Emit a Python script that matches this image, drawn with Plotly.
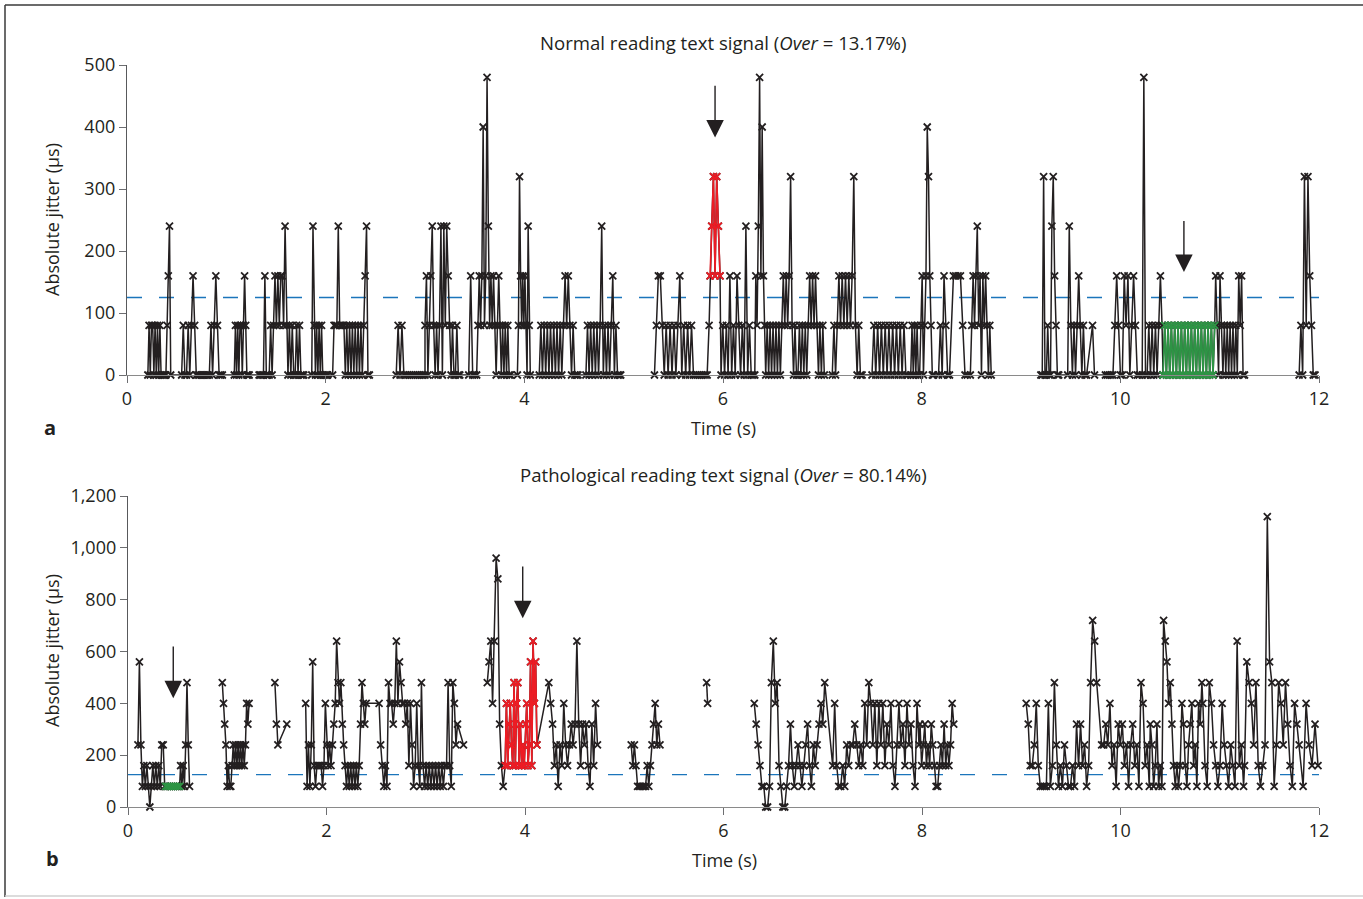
import plotly.graph_objects as go

W, H = 1363, 899

# ---------------- data ----------------
# Each segment: (t_start [s], t_end [s], jitter values [µs], colour tag)
SEG_NORMAL = [
    (0.21, 0.44, [0, 80, 0, 80, 80, 0, 80, 0, 80, 0, 80, 0, 0, 0, 0, 0, 80, 160, 240, 0], "k"),
    (0.55, 0.96, [0, 80, 0, 0, 80, 0, 80, 160, 80, 0, 0, 0, 0, 0, 0, 0, 0, 0, 80, 0, 80, 160, 80, 0, 0, 0], "k"),
    (1.08, 1.23, [0, 80, 0, 80, 0, 80, 80, 0, 80, 160, 80, 0, 0, 0], "k"),
    (1.33, 1.78, [0, 0, 0, 0, 160, 0, 0, 0, 80, 0, 80, 160, 80, 160, 80, 160, 160, 80, 240, 80, 0, 80, 0, 80, 0, 0, 80, 0, 80, 0, 0, 0], "k"),
    (1.86, 2.02, [0, 240, 80, 0, 80, 0, 80, 0, 80, 0, 0, 0, 0, 0], "k"),
    (2.07, 2.44, [0, 80, 80, 80, 240, 80, 80, 80, 80, 0, 80, 0, 80, 0, 80, 0, 80, 0, 80, 0, 80, 0, 80, 160, 240, 0, 0], "k"),
    (2.71, 3.00, [0, 80, 0, 80, 0, 0, 0, 0, 0, 0, 0, 0, 0, 0, 0, 0], "k"),
    (3.00, 3.35, [80, 160, 0, 80, 160, 240, 80, 0, 80, 0, 80, 240, 0, 240, 80, 240, 160, 80, 0, 80, 0, 0, 80, 0, 0], "k"),
    (3.44, 3.50, [0, 160, 0, 0], "k"),
    (3.52, 3.86, [0, 80, 160, 80, 160, 400, 80, 160, 480, 240, 80, 160, 80, 160, 80, 0, 80, 160, 80, 0, 80, 0, 80, 0, 80, 0, 0], "k"),
    (3.93, 4.06, [0, 80, 320, 160, 80, 160, 80, 160, 80, 0, 240, 80, 0], "k"),
    (4.15, 4.54, [0, 80, 0, 80, 0, 80, 0, 80, 0, 80, 0, 80, 0, 80, 0, 80, 160, 80, 160, 80, 0, 80, 0, 0, 0], "k"),
    (4.62, 4.97, [0, 80, 0, 80, 0, 80, 0, 80, 0, 80, 240, 0, 80, 0, 80, 0, 80, 160, 0, 80, 0, 0, 0], "k"),
    (5.31, 5.86, [0, 80, 160, 160, 80, 0, 80, 0, 80, 0, 80, 0, 80, 160, 0, 80, 0, 80, 0, 80, 0, 0, 0, 0, 0, 0, 0, 0, 80], "k"),
    (5.87, 5.97, [160, 240, 320, 160, 320, 240, 160], "r"),
    (5.98, 6.32, [0, 80, 0, 80, 0, 160, 0, 80, 0, 160, 80, 0, 80, 0, 240, 0, 80, 0, 0, 0], "k"),
    (6.33, 6.42, [160, 80, 240, 480, 160, 400, 160, 80], "k"),
    (6.43, 7.02, [0, 80, 0, 80, 0, 80, 0, 80, 0, 80, 0, 80, 160, 80, 160, 80, 160, 320, 80, 0, 80, 0, 0, 80, 0, 80, 0, 80, 0, 80, 160, 80, 160, 80, 160, 80, 0, 80, 0, 80, 0], "k"),
    (7.10, 7.40, [0, 80, 0, 80, 160, 80, 160, 80, 160, 80, 160, 80, 160, 320, 80, 0, 80, 0, 0], "k"),
    (7.50, 7.86, [0, 80, 0, 80, 0, 80, 0, 80, 0, 80, 0, 80, 0, 80, 0, 80, 0, 80, 0, 0], "k"),
    (7.89, 8.12, [0, 80, 0, 80, 0, 80, 0, 0, 80, 160, 0, 80, 160, 400, 320, 160, 80, 0, 0], "k"),
    (8.17, 8.28, [0, 80, 0, 160, 80, 0, 0], "k"),
    (8.32, 8.46, [160, 160, 160, 160, 80, 0, 0], "k"),
    (8.49, 8.70, [0, 80, 160, 80, 160, 240, 80, 160, 0, 160, 80, 160, 80, 0, 80, 0], "k"),
    (9.20, 9.38, [0, 0, 320, 0, 0, 80, 0, 0, 240, 320, 160, 80, 0, 0], "k"),
    (9.47, 9.66, [0, 240, 80, 0, 80, 0, 80, 160, 80, 0, 80, 0, 0], "k"),
    (9.72, 9.74, [80, 0], "k"),
    (9.85, 10.19, [0, 0, 0, 0, 0, 80, 160, 80, 0, 0, 160, 80, 160, 0, 80, 160, 80, 0, 0], "k"),
    (10.22, 10.42, [0, 480, 0, 0, 80, 0, 80, 0, 80, 0, 80, 160, 80], "k"),
    (10.43, 10.95, [0, 80, 0, 80, 0, 80, 0, 80, 0, 80, 0, 80, 0, 80, 0, 80, 0, 80, 0, 80, 0, 80, 0, 80, 0, 80, 0, 80, 0, 80, 0, 80], "g"),
    (10.96, 11.25, [160, 80, 0, 160, 80, 0, 80, 0, 80, 0, 80, 0, 80, 0, 80, 0, 160, 80, 160, 0, 0], "k"),
    (11.80, 11.96, [0, 80, 0, 320, 80, 320, 160, 80, 0, 0], "k"),
]

SEG_PATHO = [
    (0.10, 0.37, [240, 560, 240, 80, 160, 80, 160, 80, 0, 80, 160, 80, 160, 80, 160, 80, 240, 240, 80], "k"),
    (0.38, 0.52, [80, 80, 80, 80, 80, 80, 80, 80], "g"),
    (0.53, 0.62, [160, 80, 160, 80, 240, 480, 240, 80], "k"),
    (0.95, 1.22, [480, 400, 320, 240, 80, 160, 80, 80, 160, 240, 160, 240, 160, 240, 160, 240, 160, 240, 160, 240, 400, 320, 400], "k"),
    (1.48, 1.51, [480, 320, 240], "k"),
    (1.60, 1.60, [320], "k"),
    (1.79, 2.40, [400, 80, 240, 80, 240, 560, 160, 80, 160, 160, 160, 160, 80, 160, 400, 240, 160, 240, 160, 240, 320, 400, 640, 480,
                  400, 480, 320, 240, 160, 80, 160, 80, 160, 80, 160, 80, 160, 80, 160, 320, 480, 400, 320, 400], "k"),
    (2.53, 3.32, [400, 240, 160, 80, 160, 80, 480, 400, 400, 320, 400, 640, 400, 560, 480, 400, 400, 320, 400, 160, 400, 240, 80, 160,
                  400, 160, 80, 480, 160, 80, 160, 80, 160, 80, 160, 80, 160, 80, 160, 80, 160, 80, 160, 160, 480, 160, 80, 480, 400, 240, 320], "k"),
    (3.38, 3.38, [240], "k"),
    (3.62, 3.78, [480, 560, 640, 400, 640, 960, 880, 320, 160, 80], "k"),
    (3.80, 4.12, [160, 400, 160, 320, 400, 240, 160, 480, 160, 400, 480, 160, 320, 160, 240, 160, 320, 400, 160, 240, 560, 160, 640, 400, 560, 240], "r"),
    (4.24, 4.73, [480, 400, 320, 160, 240, 80, 240, 160, 400, 240, 160, 240, 320, 240, 320, 640, 320, 160, 320, 240, 320, 160, 80, 320, 160, 400, 240], "k"),
    (5.07, 5.36, [240, 160, 240, 160, 80, 80, 80, 80, 80, 80, 160, 80, 160, 240, 320, 400, 240, 320, 240], "k"),
    (5.83, 5.84, [480, 400], "k"),
    (6.31, 7.02, [400, 320, 240, 160, 80, 80, 0, 0, 80, 480, 640, 400, 480, 160, 80, 0, 0, 80, 160, 320, 160, 80, 160, 240, 160, 80, 160,
                  240, 320, 160, 80, 240, 160, 240, 320, 400, 320, 480], "k"),
    (7.10, 7.97, [160, 400, 160, 80, 80, 160, 80, 240, 160, 240, 240, 320, 240, 160, 240, 160, 400, 240, 480, 400, 240, 400, 160, 400, 240,
                  400, 160, 320, 240, 400, 160, 80, 240, 400, 240, 320, 160, 400, 240, 320, 160, 80, 400, 240], "k"),
    (7.98, 8.32, [320, 160, 240, 320, 160, 240, 160, 320, 240, 160, 80, 80, 160, 240, 160, 320, 160, 240, 160, 240, 400, 320], "k"),
    (9.05, 9.76, [400, 320, 160, 160, 240, 400, 160, 80, 80, 80, 80, 400, 80, 160, 480, 240, 80, 160, 80, 240, 160, 80, 80, 160, 80, 320,
                  160, 320, 160, 240, 80, 160, 480, 720, 640, 480], "k"),
    (9.81, 10.29, [240, 240, 320, 240, 400, 160, 240, 80, 320, 240, 320, 160, 240, 80, 240, 320, 160, 240, 80, 480, 400, 160, 240, 80], "k"),
    (10.30, 10.82, [320, 240, 80, 160, 320, 80, 160, 80, 720, 640, 560, 400, 480, 320, 160, 80, 160, 80, 160, 400, 320, 160, 80, 240, 320,
                    400, 160, 240, 80, 400, 320, 480], "k"),
    (10.83, 11.24, [400, 160, 80, 480, 400, 240, 160, 80, 160, 400, 240, 160, 80, 240, 160, 80, 640, 160, 240, 80], "k"),
    (11.25, 11.80, [160, 560, 480, 400, 240, 480, 160, 80, 160, 240, 1120, 560, 480, 80, 240, 480, 400, 240, 480, 320, 160, 80, 400, 320, 240], "k"),
    (11.84, 11.99, [80, 400, 240, 160, 320, 160], "k"),
]

THRESHOLD = 125  # µs

X_TICKS = [0, 2, 4, 6, 8, 10, 12]
YA_TICKS = [0, 100, 200, 300, 400, 500]
YB_TICKS = [0, 200, 400, 600, 800, 1000, 1200]
YB_TICKTEXT = ["0", "200", "400", "600", "800", "1,000", "1,200"]

TITLE_A = "Normal reading text signal (<i>Over</i> = 13.17%)"
TITLE_B = "Pathological reading text signal (<i>Over</i> = 80.14%)"
Y_TITLE = "Absolute jitter (µs)"
X_TITLE = "Time (s)"

# arrows: (time, tail value, tip value)
ARROWS_A = [(5.92, 469, 383), (10.64, 251, 166)]
ARROWS_B = [(0.456, 625, 420), (3.977, 934, 728)]

# ---------------- styling ----------------
INK = "#231f20"
RED = "#ed1c24"
GREEN = "#2e9445"
BLUE = "#1b75bb"
FONT = "Open Sans"


def build(segs, gap=0.15):
    xs, ys = [], []
    col = {"r": ([], []), "g": ([], [])}
    prev = None
    for t0, t1, vals, c in segs:
        n = len(vals)
        ts = [t0 + (t1 - t0) * i / (n - 1) for i in range(n)] if n > 1 else [t0]
        if prev is not None and t0 - prev > gap:
            xs.append(None)
            ys.append(None)
        xs += ts
        ys += vals
        if c in col:
            col[c][0].extend(ts)
            col[c][1].extend(vals)
        prev = t1
    return xs, ys, col


def px(x):
    return x / W


def py(y):
    return 1 - y / H


fig = go.Figure()

panels = [
    (SEG_NORMAL, "x", "y"),
    (SEG_PATHO, "x2", "y2"),
]
colmap = {"r": RED, "g": GREEN}
for segs, xa, ya in panels:
    xs, ys, col = build(segs)
    fig.add_trace(go.Scatter(
        x=[0, 12], y=[THRESHOLD, THRESHOLD], mode="lines", xaxis=xa, yaxis=ya,
        line=dict(color=BLUE, width=1.4, dash="15px,17px"), hoverinfo="skip", showlegend=False))
    fig.add_trace(go.Scatter(
        x=xs, y=ys, mode="lines+markers", xaxis=xa, yaxis=ya, connectgaps=False, cliponaxis=False,
        line=dict(color=INK, width=1.5),
        marker=dict(symbol="x-thin", size=7, line=dict(color=INK, width=1.8)),
        showlegend=False))
    for c, (cx, cy) in col.items():
        if cx:
            fig.add_trace(go.Scatter(
                x=cx, y=cy, mode="lines+markers", xaxis=xa, yaxis=ya, cliponaxis=False,
                line=dict(color=colmap[c], width=1.6),
                marker=dict(symbol="x-thin", size=7, line=dict(color=colmap[c], width=1.8)),
                showlegend=False))

tickfont = dict(family=FONT, size=18, color=INK)
xcommon = dict(range=[0, 12], tickvals=X_TICKS, ticks="outside", ticklen=7, tickwidth=1.2,
               tickcolor="#6d6e71", showline=True, linecolor="#8a8a8a", linewidth=1.3,
               showgrid=False, zeroline=False, tickfont=tickfont, fixedrange=True, automargin=False)
ycommon = dict(ticks="outside", ticklen=7, tickwidth=1.2, tickcolor="#6d6e71", showline=True,
               linecolor="#58595b", linewidth=1.3, showgrid=False, zeroline=False,
               tickfont=tickfont, fixedrange=True, automargin=False)

fig.update_layout(
    template="none",
    width=W, height=H,
    margin=dict(l=0, r=0, t=0, b=0, pad=0, autoexpand=False),
    paper_bgcolor="white", plot_bgcolor="rgba(0,0,0,0)",
    font=dict(family=FONT, color=INK),
    xaxis=dict(domain=[px(127), px(1319)], anchor="y", **xcommon),
    yaxis=dict(domain=[py(375), py(65)], anchor="x", range=[0, 500], tickvals=YA_TICKS, **ycommon),
    xaxis2=dict(domain=[px(128), px(1319)], anchor="y2", **xcommon),
    yaxis2=dict(domain=[py(807), py(496)], anchor="x2", range=[0, 1200], tickvals=YB_TICKS,
                ticktext=YB_TICKTEXT, **ycommon),
)

ann = []
def text(t, x, y, size=18, angle=0, bold=False):
    ann.append(dict(text=f"<b>{t}</b>" if bold else t, x=px(x), y=py(y), xref="paper", yref="paper",
                    showarrow=False, textangle=angle, xanchor="center", yanchor="middle",
                    font=dict(family=FONT, size=size, color=INK)))

text(TITLE_A, 723, 43, size=18.6)
text(TITLE_B, 723, 475, size=18.6)
text(Y_TITLE, 52, 220, size=18, angle=-90)
text(Y_TITLE, 52, 651, size=18, angle=-90)
text(X_TITLE, 723, 428)
text(X_TITLE, 724, 860)
text("a", 50, 427, size=20, bold=True)
text("b", 52, 858, size=20, bold=True)

for arrows, xa, ya in [(ARROWS_A, "x", "y"), (ARROWS_B, "x2", "y2")]:
    for t, tail, tip in arrows:
        ann.append(dict(x=t, y=tip, ax=t, ay=tail, xref=xa, yref=ya, axref=xa, ayref=ya, text="",
                        showarrow=True, arrowhead=2, arrowsize=2.5, arrowwidth=1.4, arrowcolor=INK,
                        standoff=0))
fig.update_layout(annotations=ann)

# frame
fig.update_layout(shapes=[
    dict(type="line", xref="paper", yref="paper", x0=px(5), x1=px(5), y0=py(897), y1=py(5),
         line=dict(color="#3a3a3a", width=1.5)),
    dict(type="line", xref="paper", yref="paper", x0=px(5), x1=1, y0=py(5), y1=py(5),
         line=dict(color="#3a3a3a", width=1.5)),
    dict(type="line", xref="paper", yref="paper", x0=px(5), x1=1, y0=py(896), y1=py(896),
         line=dict(color="#d0d0d0", width=1.5)),
])

fig.write_html("out.html", config={"displayModeBar": False},
               post_script="document.body.style.margin='0';document.body.style.overflow='hidden';")
